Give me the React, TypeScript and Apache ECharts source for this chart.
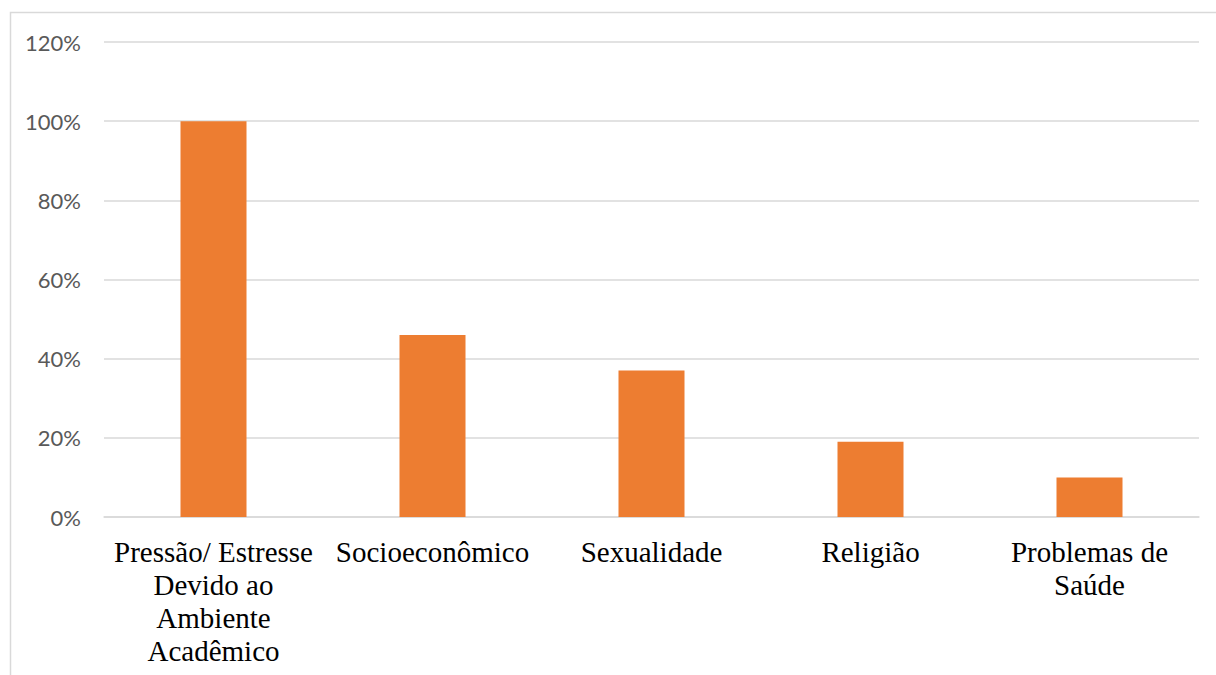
import React, { useEffect, useRef } from "react";
import * as echarts from "echarts";

const categories = [
  "Pressão/ Estresse\nDevido ao\nAmbiente\nAcadêmico",
  "Socioeconômico",
  "Sexualidade",
  "Religião",
  "Problemas de\nSaúde",
];
const values = [1.0, 0.46, 0.37, 0.19, 0.1];
const yMin = 0;
const yMax = 1.2;
const yInterval = 0.2;

export default function App() {
  const ref = useRef<HTMLDivElement>(null);
  useEffect(() => {
    if (!ref.current) return;
    const chart = echarts.init(ref.current, undefined, { renderer: "svg" });
    chart.setOption({
      animation: false,
      backgroundColor: "#ffffff",
      graphic: [
        {
          type: "rect",
          shape: { x: 10.5, y: 12.5, width: 1212, height: 700 },
          style: { fill: "none", stroke: "#d9d9d9", lineWidth: 1.5 },
          silent: true,
        },
      ],
      grid: { left: 104, right: 17, top: 42, bottom: 158 },
      xAxis: {
        type: "category",
        data: categories,
        axisLine: { show: true, lineStyle: { color: "#d9d9d9", width: 1.5 } },
        axisTick: { show: false },
        axisLabel: {
          interval: 0,
          margin: 18,
          color: "#000000",
          fontFamily: "Liberation Serif",
          fontSize: 29,
          lineHeight: 33,
        },
      },
      yAxis: {
        type: "value",
        min: yMin,
        max: yMax,
        interval: yInterval,
        axisLine: { show: false },
        axisTick: { show: false },
        splitLine: { lineStyle: { color: "#d9d9d9", width: 1.5 } },
        axisLabel: {
          margin: 23,
          color: "#595959",
          fontFamily: "Lato",
          fontSize: 22,
          formatter: (v: number) => Math.round(v * 100) + "%",
        },
      },
      series: [
        {
          type: "bar",
          data: values,
          barWidth: 66,
          itemStyle: { color: "#ED7D31" },
        },
      ],
    });
    return () => chart.dispose();
  }, []);
  return (
    <div
      ref={ref}
      style={{ position: "fixed", left: 0, top: 0, width: 1216, height: 675 }}
    />
  );
}
